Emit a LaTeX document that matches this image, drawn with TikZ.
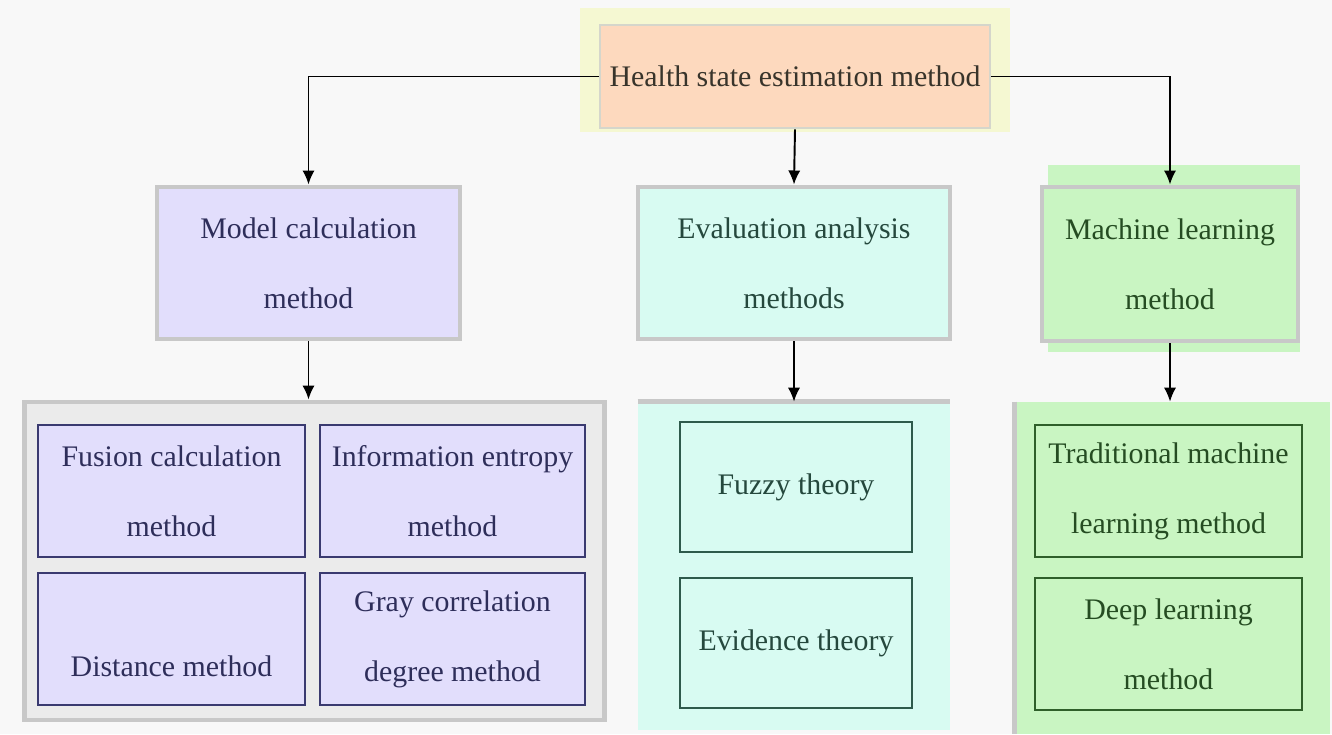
\documentclass[tikz,border=0pt]{standalone}
\usepackage{fontspec}
\setmainfont{Liberation Serif}
\usetikzlibrary{arrows.meta}

\definecolor{pagebg}{HTML}{F8F8F8}
\definecolor{framegray}{HTML}{C8C8C8}
\definecolor{topyellow}{HTML}{F5F8D2}
\definecolor{toppeach}{HTML}{FDD9BE}
\definecolor{lavender}{HTML}{E2DEFC}
\definecolor{navyline}{HTML}{3A3A70}
\definecolor{mint}{HTML}{D8FBF2}
\definecolor{tealline}{HTML}{2E5A4C}
\definecolor{leafgreen}{HTML}{C9F5C2}
\definecolor{darkgreen}{HTML}{2F5F2A}

\tikzset{
  txt/.style={font=\fontsize{17}{40}\selectfont, align=center, inner sep=0pt},
  midbox/.style={txt, draw=framegray, line width=2.8pt},
  subbox/.style={txt, line width=1.4pt, minimum width=5.34cm, minimum height=2.64cm},
  feed/.style={line width=1.1pt, -{Latex[length=8pt,width=7pt]}}
}

\begin{document}
\begin{tikzpicture}[x=0.02cm,y=-0.02cm]

\fill [pagebg] (0,0) rectangle (1332,734);
\useasboundingbox (0,0) rectangle (1332,734);

\fill [topyellow] (580,8) rectangle (1010,132);
\node [txt, fill=toppeach, draw=framegray!70!topyellow, line width=1.5pt,
  text=black!80!olive, minimum width=7.8cm, minimum height=2.06cm]
  (top) at (795,76.5) {Health state estimation method};

\node [midbox, fill=lavender, text=navyline!80!black, minimum width=6.06cm, minimum height=3.04cm]
  (model) at (308.5,263) {Model calculation\\method};
\node [midbox, fill=mint, text=tealline!80!black, minimum width=6.24cm, minimum height=3.04cm]
  (eval) at (794,263) {Evaluation analysis\\methods};
\fill [leafgreen] (1048,165) rectangle (1300,352);
\node [midbox, fill=leafgreen, text=darkgreen!80!black, minimum width=5.12cm, minimum height=3.08cm]
  (machine) at (1170,264) {Machine learning\\method};

\node [draw=framegray, fill=black!8, line width=2.8pt, minimum width=11.62cm, minimum height=6.36cm]
  (mgroup) at (314.5,561) {};
\node [fill=mint, minimum width=6.24cm, minimum height=6.56cm]
  (egroup) at (794,566) {};
\draw [framegray, line width=2.8pt] (egroup.north west) -- (egroup.north east);
\node [fill=leafgreen, minimum width=6.3cm, minimum height=6.64cm]
  (lgroup) at (1172.5,568) {};
\draw [framegray, line width=2.8pt] (lgroup.north west) -- (lgroup.south west);

\node [subbox, draw=navyline, fill=lavender, text=navyline!80!black] (fusion) at (171.5,491) {Fusion calculation\\method};
\node [subbox, draw=navyline, fill=lavender, text=navyline!80!black, minimum width=5.3cm] (entropy) at (452.5,491) {Information entropy\\method};
\node [subbox, draw=navyline, fill=lavender, text=navyline!80!black] (distance) at (171.5,639) {\raisebox{-0.74cm}[0pt][0pt]{Distance method}};
\node [subbox, draw=navyline, fill=lavender, text=navyline!80!black, minimum width=5.3cm] (gray) at (452.5,639) {Gray correlation\\degree method};

\node [subbox, draw=tealline, fill=mint, text=tealline!80!black, minimum width=4.64cm, minimum height=2.6cm] (fuzzy) at (796,487) {Fuzzy theory};
\node [subbox, draw=tealline, fill=mint, text=tealline!80!black, minimum width=4.64cm, minimum height=2.6cm] (evidence) at (796,643) {Evidence theory};

\node [subbox, draw=darkgreen, fill=leafgreen, text=darkgreen!80!black] (tradml) at (1168.5,491) {Traditional machine\\learning method};
\node [subbox, draw=darkgreen, fill=leafgreen, text=darkgreen!80!black] (deepl) at (1168.5,644) {Deep learning\\method};

\draw [feed] (top.west) -| (model.north);
\draw [feed] (top.south) -- (eval.north);
\draw [feed] (top.east) -| (machine.north);
\draw [feed] (model.south) -- (model.south |- mgroup.north);
\draw [feed] (eval.south) -- (egroup.north);
\draw [feed] (machine.south) -- (machine.south |- lgroup.north);
\end{tikzpicture}
\end{document}
